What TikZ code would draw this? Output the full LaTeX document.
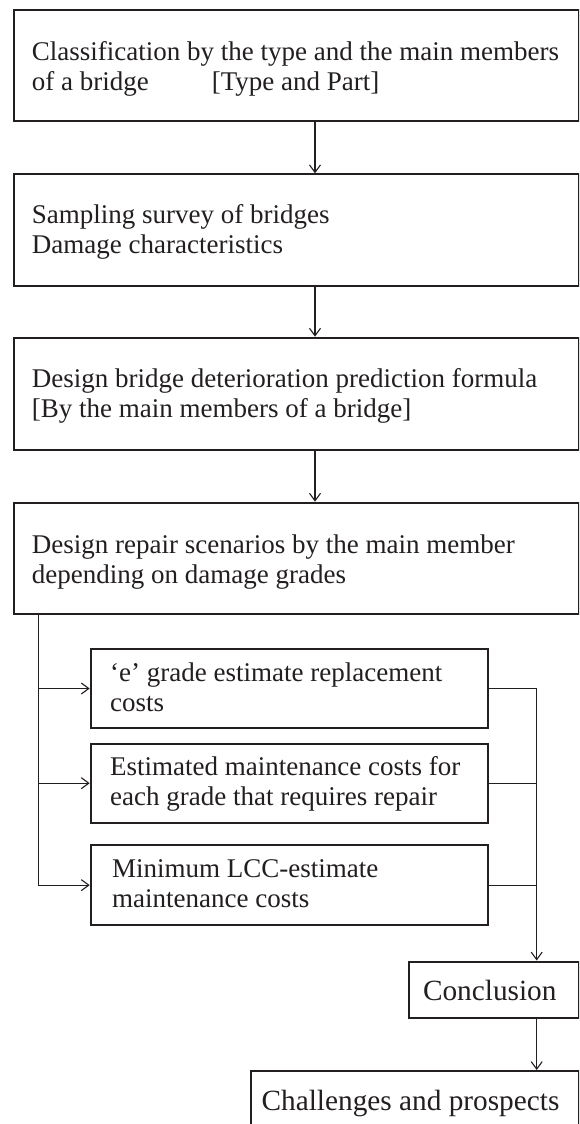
\documentclass[tikz,border=0pt]{standalone}
\usepackage{fontspec}
\setmainfont{Liberation Serif}
\usetikzlibrary{arrows.meta}
\definecolor{bordc}{RGB}{35,31,32}
\definecolor{linec}{RGB}{35,31,32}
\definecolor{txtc}{RGB}{35,31,32}
\tikzset{
  mbox/.style={draw=bordc, line width=2pt, inner sep=0pt, anchor=north west},
  txt/.style={inner sep=0pt, anchor=north west, align=left, text=txtc, font=\fontsize{27}{30}\selectfont},
  bigtxt/.style={inner sep=0pt, anchor=north west, align=left, text=txtc, font=\fontsize{29.3}{33}\selectfont},
  conn/.style={draw=linec, line width=1.1pt},
  arr/.style={conn, -{Straight Barb[length=7.5pt,width=11pt]}}
}
\begin{document}
\begin{tikzpicture}[x=1pt,y=-1pt]
\clip (0,0) rectangle (579,1124);
\fill[white] (0,0) rectangle (579,1124);
% main boxes
\node[mbox, minimum width=564.2pt, minimum height=111pt] (b1) at (13.3,9.3) {};
\node[mbox, minimum width=564.2pt, minimum height=111.7pt] (b2) at (13.3,173.3) {};
\node[mbox, minimum width=564.2pt, minimum height=112.6pt] (b3) at (13.3,336.7) {};
\node[mbox, minimum width=564.2pt, minimum height=111.6pt] (b4) at (13.3,501.7) {};
\node[txt] (t1) at (31.7,38.8) {\strut Classification by the type and the main members\\\strut of a bridge\hspace{63pt}[Type and Part]};
\node[txt] (t2) at (31.7,202.3) {\strut Sampling survey of bridges\\\strut Damage characteristics};
\node[txt] (t3) at (31.7,366.2) {\strut Design bridge deterioration prediction formula\\\strut [By the main members of a bridge]};
\node[txt] (t4) at (31.7,532.5) {\strut Design repair scenarios by the main member\\\strut depending on damage grades};
% sub boxes
\node[mbox, minimum width=397pt, minimum height=78.4pt] (s1) at (89.7,648.3) {};
\node[mbox, minimum width=397pt, minimum height=79pt] (s2) at (89.7,742.7) {};
\node[mbox, minimum width=397pt, minimum height=79.7pt] (s3) at (89.7,844.3) {};
\node[txt] (u1) at (110,660.5) {\strut ‘e’ grade estimate replacement\\\strut costs};
\node[txt] (u2) at (110,754.5) {\strut Estimated maintenance costs for\\\strut each grade that requires repair};
\node[txt] (u3) at (112,856) {\strut Minimum LCC-estimate\\\strut maintenance costs};
% conclusion and challenges
\node[mbox, minimum width=169.5pt, minimum height=56.2pt] (c) at (408,960.5) {};
\node[bigtxt] (ct) at (422.8,976.9) {\strut Conclusion};
\node[mbox, minimum width=327.1pt, minimum height=80pt] (ch) at (250.4,1070) {};
\node[bigtxt] (cht) at (261.4,1086.9) {\strut Challenges and prospects};
% connectors
\coordinate (ax) at (315,0);
\coordinate (lx) at (38.3,0);
\coordinate (rx) at (536.7,0);
\draw[arr] (b1.south -| ax) -- (b2.north -| ax);
\draw[arr] (b2.south -| ax) -- (b3.north -| ax);
\draw[arr] (b3.south -| ax) -- (b4.north -| ax);
\draw[arr] (b4.south -| lx) |- (s3.west);
\draw[arr] (s1.west -| lx) -- (s1.west);
\draw[arr] (s2.west -| lx) -- (s2.west);
\draw[arr] (s1.east) -| (c.north -| rx);
\draw[conn] (s2.east) -- (s2.east -| rx);
\draw[conn] (s3.east) -- (s3.east -| rx);
\draw[arr] (c.south -| rx) -- (ch.north -| rx);
\end{tikzpicture}
\end{document}
